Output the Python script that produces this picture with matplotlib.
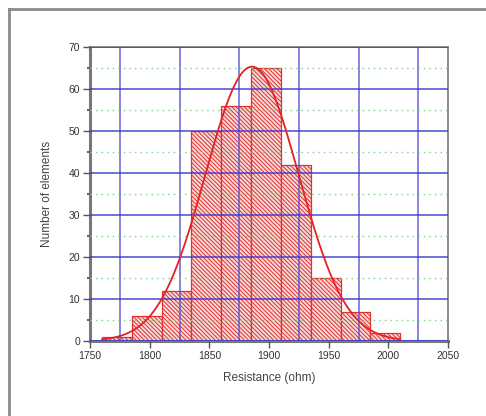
import numpy as np
import matplotlib
matplotlib.use("Agg")
import matplotlib.pyplot as plt
from matplotlib.ticker import MultipleLocator, FixedLocator
from matplotlib.lines import Line2D

# Data
bin_edges = [1760, 1785, 1810, 1835, 1860, 1885, 1910, 1935, 1960, 1985, 2010]
counts = [1, 6, 12, 50, 56, 65, 42, 15, 7, 2]
x_label = "Resistance (ohm)"
y_label = "Number of elements"

plt.rcParams['font.family'] = ['Liberation Sans', 'DejaVu Sans']
plt.rcParams['hatch.linewidth'] = 0.7

fig = plt.figure(figsize=(4.86, 4.16), dpi=100)
ax = fig.add_axes([90/486, 1-341/416, (448-90)/486, (341-47)/416])

# outer frame (open at right/bottom)
fig.add_artist(Line2D([9/486, 9/486], [0, 1-9/416], transform=fig.transFigure,
                      color='#8a8a8a', lw=2))
fig.add_artist(Line2D([9/486, 1], [1-9/416, 1-9/416], transform=fig.transFigure,
                      color='#8a8a8a', lw=2))

edges = np.array(bin_edges, dtype=float)
cnt = np.array(counts, dtype=float)
widths = np.diff(edges)
ax.bar(edges[:-1], cnt, width=widths, align='edge', facecolor='#f5dada',
       edgecolor='#e03030', hatch='\\' * 8, linewidth=0.9, zorder=2)

# normal fit from histogram
centers = (edges[:-1] + edges[1:]) / 2
n = cnt.sum()
mu = (centers * cnt).sum() / n
sd = np.sqrt(((centers - mu) ** 2 * cnt).sum() / n)
xs = np.linspace(edges[0], edges[-1], 300)
ys = n * widths[0] / (sd * np.sqrt(2 * np.pi)) * np.exp(-0.5 * ((xs - mu) / sd) ** 2)
ax.plot(xs, ys, color='#e82020', lw=1.3, zorder=4)

ax.set_xlim(1750, 2050)
ax.set_ylim(0, 70)
ax.xaxis.set_major_locator(MultipleLocator(50))
ax.xaxis.set_minor_locator(FixedLocator([1775, 1825, 1875, 1925, 1975, 2025]))
ax.yaxis.set_major_locator(MultipleLocator(10))
ax.yaxis.set_minor_locator(MultipleLocator(5))

ax.grid(which='minor', axis='x', color='#5050d0', lw=1.3, alpha=0.75, zorder=3)
ax.grid(which='major', axis='y', color='#3a3ad0', lw=1.2, alpha=0.85, zorder=3)
ax.grid(which='minor', axis='y', color='#80d080', lw=1.0, ls=(0, (1, 3)), zorder=3)
ax.grid(which='major', axis='x', visible=False)
ax.set_axisbelow(False)

ax.tick_params(axis='both', which='major', length=5, width=1, color='#555555',
               labelsize=7.5, labelcolor='#333333', pad=2)
ax.tick_params(axis='x', which='minor', length=0)
ax.tick_params(axis='y', which='minor', length=2, width=1.5, color='#666666')

for side in ['left', 'bottom']:
    ax.spines[side].set_color('#777777')
    ax.spines[side].set_linewidth(2.2)
for side in ['top', 'right']:
    ax.spines[side].set_color('#777777')
    ax.spines[side].set_linewidth(1.2)

ax.set_xlabel(x_label, fontsize=8.5, color='#444444', labelpad=8)
ax.set_ylabel(y_label, fontsize=8.5, color='#444444', labelpad=11)

fig.savefig("out.png", dpi=100)
